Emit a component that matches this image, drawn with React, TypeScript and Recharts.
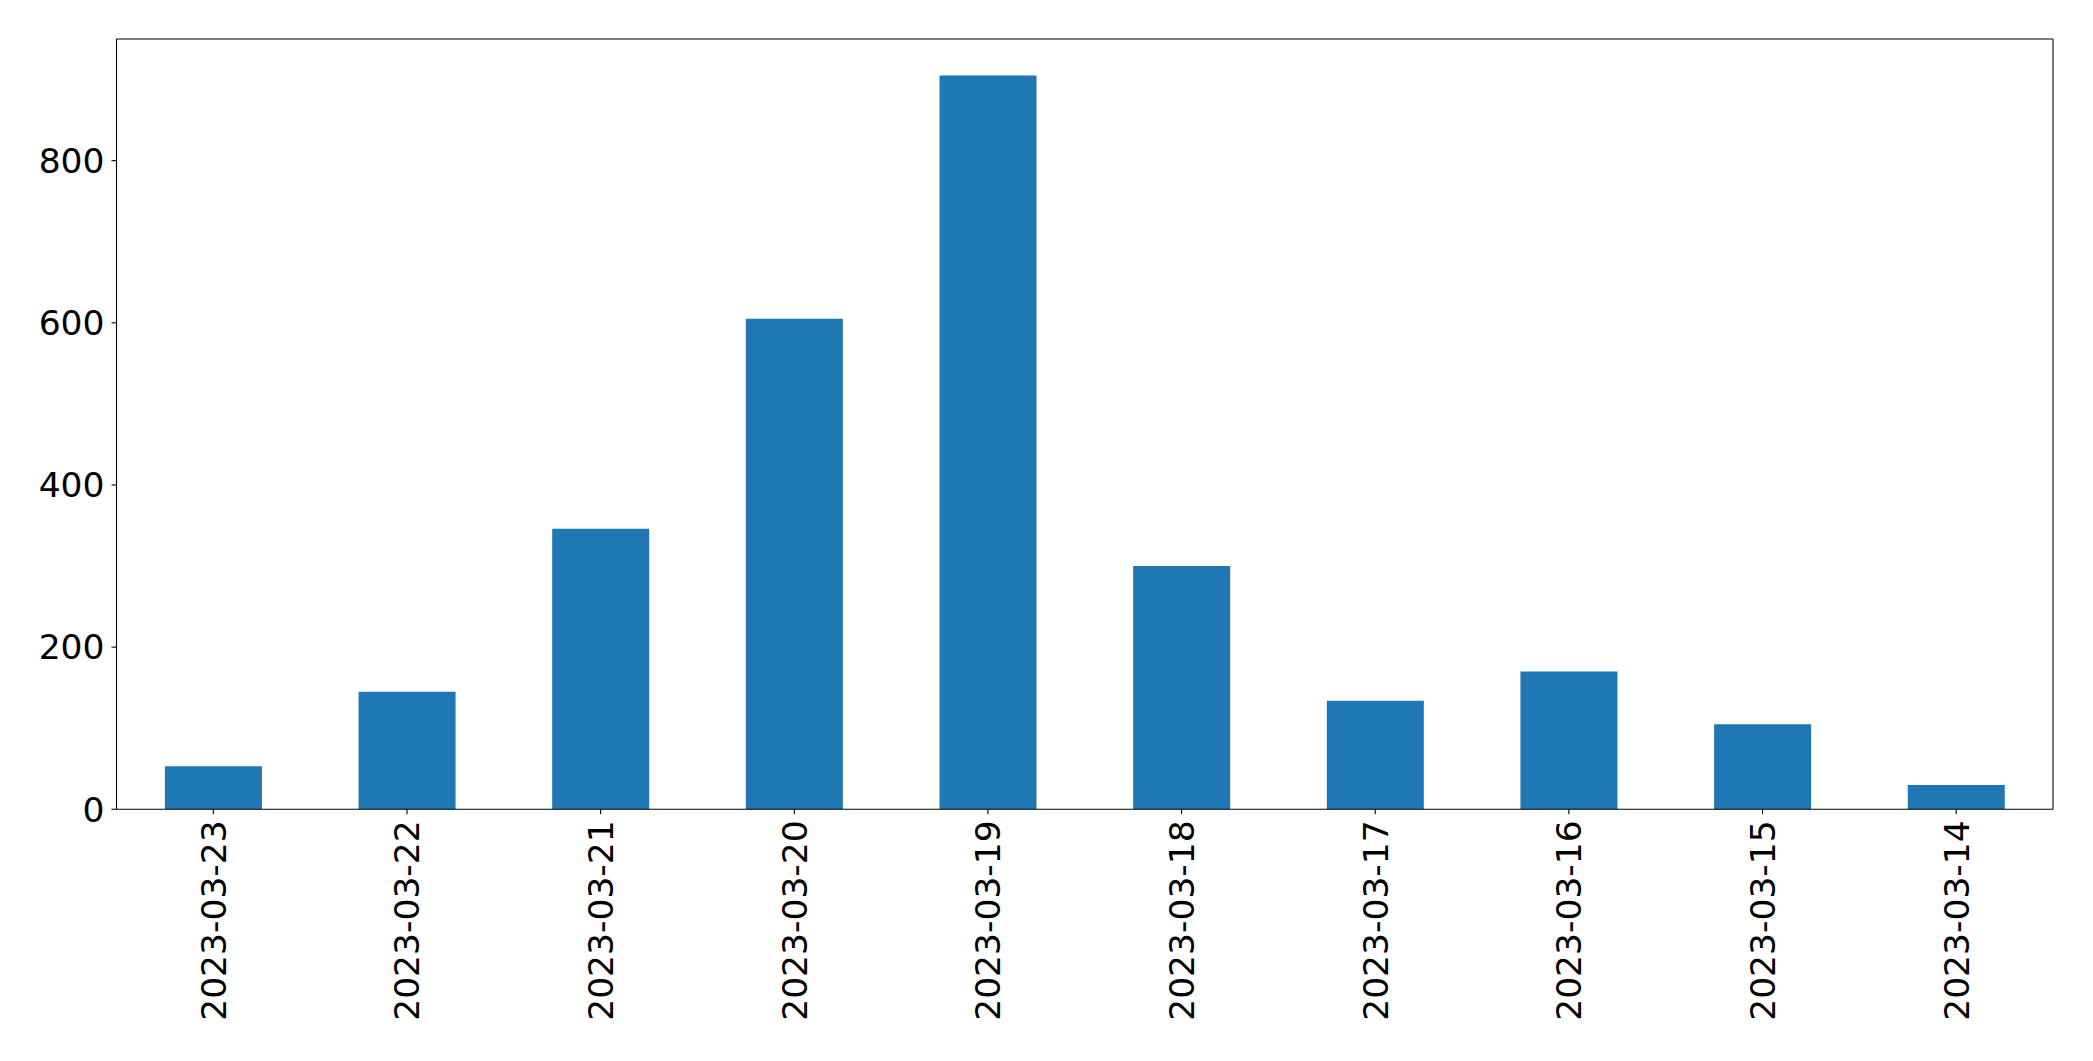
// Bar chart of daily counts, dates in descending order
import React from 'react';
import { BarChart, Bar, XAxis, YAxis, ReferenceLine } from 'recharts';

const dates = [
  '2023-03-23',
  '2023-03-22',
  '2023-03-21',
  '2023-03-20',
  '2023-03-19',
  '2023-03-18',
  '2023-03-17',
  '2023-03-16',
  '2023-03-15',
  '2023-03-14',
];
const counts = [53, 145, 346, 605, 905, 300, 134, 170, 105, 30];
const yTicks = [0, 200, 400, 600, 800];
const yMax = 950;

const data = dates.map((d, i) => ({ idx: i, date: d, count: counts[i] }));
const xTicks = data.map((d) => d.idx);

const FONT = '"DejaVu Sans", sans-serif';
const FONT_SIZE = 34.5;

interface TickProps {
  x?: number;
  y?: number;
  payload?: { value: number };
}

// rotated date labels, hanging below the axis
function DateTick({ x = 0, y = 0, payload }: TickProps) {
  const label = dates[payload?.value ?? 0];
  return (
    <text
      x={x}
      y={y}
      dy="0.36em"
      transform={`rotate(-90, ${x}, ${y})`}
      textAnchor="end"
      fontFamily={FONT}
      fontSize={FONT_SIZE}
      fill="#000"
    >
      {label}
    </text>
  );
}

const line = { stroke: '#000', strokeWidth: 1.1 };

export default function App() {
  return (
    <div>
      <style>{`body { margin: 0; }`}</style>
      <BarChart
        width={2093}
        height={1061}
        data={data}
        margin={{ top: 39, right: 40, left: 0, bottom: 0 }}
        barCategoryGap="25%"
      >
        <XAxis
          dataKey="idx"
          type="number"
          domain={[-0.5, dates.length - 0.5]}
          ticks={xTicks}
          interval={0}
          height={251.7}
          tick={<DateTick />}
          tickSize={5}
          tickMargin={6}
          axisLine={line}
          tickLine={line}
        />
        <YAxis
          width={116.5}
          domain={[0, yMax]}
          ticks={yTicks}
          interval={0}
          tickSize={5}
          tickMargin={7}
          tick={{ fill: '#000', fontSize: FONT_SIZE, fontFamily: FONT }}
          axisLine={line}
          tickLine={line}
        />
        {/* frame: top and right spines */}
        <ReferenceLine y={yMax} {...line} />
        <ReferenceLine x={dates.length - 0.5} {...line} />
        <Bar dataKey="count" fill="#1f77b4" isAnimationActive={false} />
      </BarChart>
    </div>
  );
}
